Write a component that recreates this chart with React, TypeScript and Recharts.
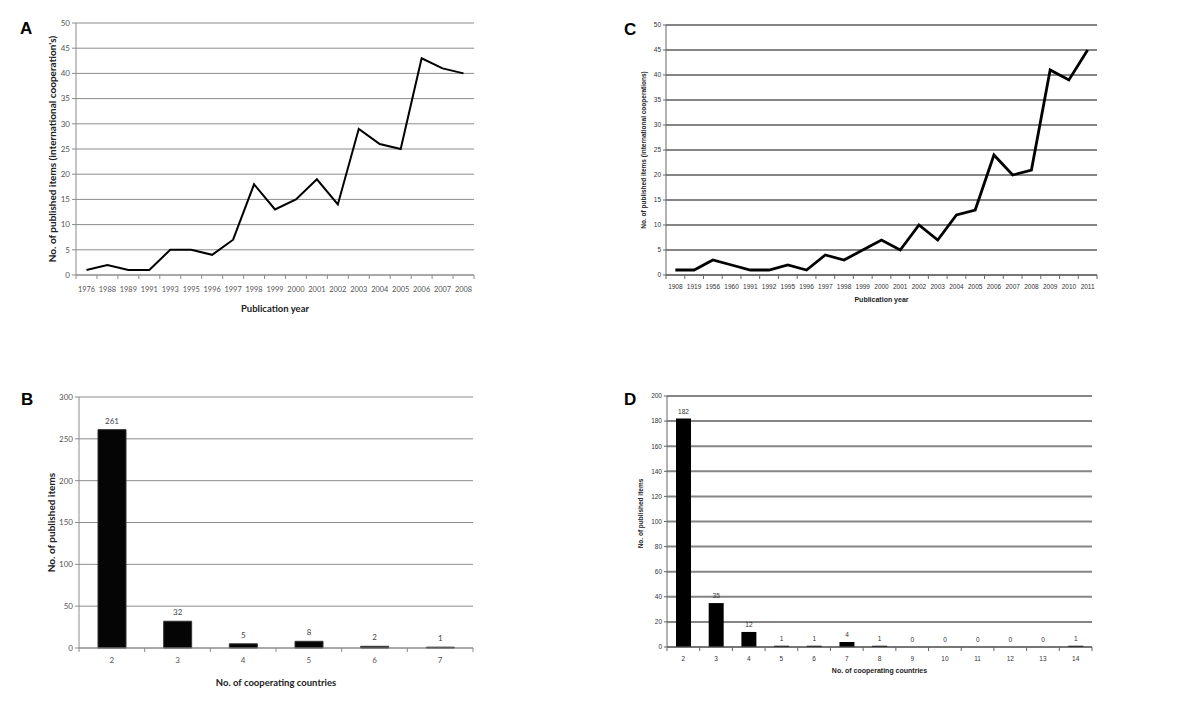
import React from 'react';
import {
  LineChart,
  Line,
  BarChart,
  Bar,
  XAxis,
  YAxis,
  CartesianGrid,
  LabelList,
} from 'recharts';

// Panel A - publications per year (international cooperation's)
const yearsA = ['1976', '1988', '1989', '1991', '1993', '1995', '1996', '1997', '1998', '1999', '2000', '2001', '2002', '2003', '2004', '2005', '2006', '2007', '2008'];
const itemsA = [1, 2, 1, 1, 5, 5, 4, 7, 18, 13, 15, 19, 14, 29, 26, 25, 43, 41, 40];

// Panel C - publications per year (international cooperations)
const yearsC = ['1908', '1919', '1956', '1960', '1991', '1992', '1995', '1996', '1997', '1998', '1999', '2000', '2001', '2002', '2003', '2004', '2005', '2006', '2007', '2008', '2009', '2010', '2011'];
const itemsC = [1, 1, 3, 2, 1, 1, 2, 1, 4, 3, 5, 7, 5, 10, 7, 12, 13, 24, 20, 21, 41, 39, 45];

// Panel B - items by number of cooperating countries
const countriesB = ['2', '3', '4', '5', '6', '7'];
const itemsB = [261, 32, 5, 8, 2, 1];

// Panel D - items by number of cooperating countries
const countriesD = ['2', '3', '4', '5', '6', '7', '8', '9', '10', '11', '12', '13', '14'];
const itemsD = [182, 35, 12, 1, 1, 4, 1, 0, 0, 0, 0, 0, 1];

const yTicksLine = [0, 5, 10, 15, 20, 25, 30, 35, 40, 45, 50];
const yTicksB = [0, 50, 100, 150, 200, 250, 300];
const yTicksD = [0, 20, 40, 60, 80, 100, 120, 140, 160, 180, 200];

const dataA = yearsA.map((year, i) => ({ year, value: itemsA[i] }));
const dataC = yearsC.map((year, i) => ({ year, value: itemsC[i] }));
const dataB = countriesB.map((n, i) => ({ n, value: itemsB[i] }));
const dataD = countriesD.map((n, i) => ({ n, value: itemsD[i] }));

const CALIBRI = 'Lato, "Open Sans", sans-serif';
const ARIAL = '"Liberation Sans", Arial, sans-serif';

const BAND_A = 398 / 19;
const BAND_C = 431 / 23;

type TickCfg = {
  band: number;
  count: number;
  font: string;
  size: number;
  color: string;
  textDy: number;
  lineColor: string;
};

// Excel-style category ticks: marks sit on the band boundaries, labels in the middle
const boundaryTick = (cfg: TickCfg) => (props: any) => {
  const { x, y, payload, index } = props;
  const half = cfg.band / 2;
  return (
    <g>
      <line x1={x - half} x2={x - half} y1={y} y2={y + 4} stroke={cfg.lineColor} />
      {index === cfg.count - 1 && (
        <line x1={x + half} x2={x + half} y1={y} y2={y + 4} stroke={cfg.lineColor} />
      )}
      <text
        x={x}
        y={y + cfg.textDy}
        textAnchor="middle"
        fontFamily={cfg.font}
        fontSize={cfg.size}
        fill={cfg.color}
      >
        {payload.value}
      </text>
    </g>
  );
};

// value label above a bar
const barValue = (font: string, size: number, color: string, gap: number) => (props: any) => {
  const { x, y, width, value } = props;
  return (
    <text x={x + width / 2} y={y - gap} textAnchor="middle" fontFamily={font} fontSize={size} fill={color}>
      {value}
    </text>
  );
};

const PanelLetter = ({ text, left, top }: { text: string; left: number; top: number }) => (
  <div
    style={{
      position: 'absolute',
      left,
      top,
      fontFamily: ARIAL,
      fontWeight: 'bold',
      fontSize: 17,
      lineHeight: 1,
    }}
  >
    {text}
  </div>
);

const App: React.FC = () => {
  return (
    <div
      style={{
        position: 'absolute',
        left: 0,
        top: 0,
        width: 1200,
        height: 706,
        background: '#fff',
        overflow: 'hidden',
      }}
    >
      <PanelLetter text="A" left={20} top={20} />
      <PanelLetter text="C" left={624} top={21} />
      <PanelLetter text="B" left={21} top={391} />
      <PanelLetter text="D" left={624} top={391} />

      {/* A */}
      <div style={{ position: 'absolute', left: 0, top: 0 }}>
        <LineChart width={490} height={330} data={dataA} margin={{ top: 23, right: 16, bottom: 0, left: 0 }}>
          <CartesianGrid vertical={false} stroke="#8c8c8c" />
          <XAxis
            dataKey="year"
            height={55}
            interval={0}
            tickSize={0}
            tickMargin={0}
            padding={{ left: BAND_A / 2, right: BAND_A / 2 }}
            axisLine={{ stroke: '#8c8c8c' }}
            tickLine={false}
            tick={boundaryTick({ band: BAND_A, count: 19, font: CALIBRI, size: 7.4, color: '#555', textDy: 17, lineColor: '#8c8c8c' })}
            label={{ value: 'Publication year', position: 'insideBottom', offset: 18, fontFamily: CALIBRI, fontSize: 9.5, fontWeight: 'bold', fill: '#222' }}
          />
          <YAxis
            width={76}
            domain={[0, 50]}
            ticks={yTicksLine}
            tickSize={4}
            tickMargin={2}
            axisLine={{ stroke: '#8c8c8c' }}
            tickLine={{ stroke: '#8c8c8c' }}
            tick={{ fontFamily: CALIBRI, fontSize: 8, fill: '#555' }}
            label={{
              value: "No. of published items (international cooperation's)",
              angle: -90,
              position: 'insideLeft',
              offset: 52,
              fontFamily: CALIBRI,
              fontSize: 10,
              fontWeight: 'bold',
              fill: '#222',
              style: { textAnchor: 'middle' },
            }}
          />
          <YAxis yAxisId="frame" orientation="right" width={0} domain={[0, 1]} tick={false} tickLine={false} axisLine={{ stroke: '#c8c8c8' }} />
          <Line type="linear" dataKey="value" stroke="#000" strokeWidth={2} dot={false} isAnimationActive={false} />
        </LineChart>
      </div>

      {/* C */}
      <div style={{ position: 'absolute', left: 600, top: 0 }}>
        <LineChart width={510} height={330} data={dataC} margin={{ top: 25, right: 13, bottom: 0, left: 0 }}>
          <CartesianGrid vertical={false} stroke="#858585" strokeWidth={2} />
          <XAxis
            dataKey="year"
            height={55}
            interval={0}
            tickSize={0}
            tickMargin={0}
            padding={{ left: BAND_C / 2, right: BAND_C / 2 }}
            axisLine={{ stroke: '#666' }}
            tickLine={false}
            tick={boundaryTick({ band: BAND_C, count: 23, font: ARIAL, size: 6.5, color: '#333', textDy: 14, lineColor: '#666' })}
            label={{ value: 'Publication year', position: 'insideBottom', offset: 28, fontFamily: ARIAL, fontSize: 7, fontWeight: 'bold', fill: '#222' }}
          />
          <YAxis
            width={66}
            domain={[0, 50]}
            ticks={yTicksLine}
            tickSize={3}
            tickMargin={2}
            axisLine={{ stroke: '#666' }}
            tickLine={{ stroke: '#666' }}
            tick={{ fontFamily: ARIAL, fontSize: 6.5, fill: '#333' }}
            label={{
              value: 'No. of published items (international cooperations)',
              angle: -90,
              position: 'insideLeft',
              offset: 44,
              fontFamily: ARIAL,
              fontSize: 6.5,
              fontWeight: 'bold',
              fill: '#222',
              style: { textAnchor: 'middle' },
            }}
          />
          <YAxis yAxisId="frame" orientation="right" width={0} domain={[0, 1]} tick={false} tickLine={false} axisLine={{ stroke: '#999' }} />
          <Line type="linear" dataKey="value" stroke="#000" strokeWidth={2.8} dot={false} isAnimationActive={false} />
        </LineChart>
      </div>

      {/* B */}
      <div style={{ position: 'absolute', left: 0, top: 380 }}>
        <BarChart width={490} height={320} data={dataB} margin={{ top: 17, right: 17, bottom: 0, left: 0 }}>
          <CartesianGrid vertical={false} stroke="#8c8c8c" />
          <XAxis
            dataKey="n"
            height={52}
            interval={0}
            tickSize={0}
            tickMargin={0}
            axisLine={{ stroke: '#8c8c8c' }}
            tickLine={false}
            tick={boundaryTick({ band: 394 / 6, count: 6, font: CALIBRI, size: 8, color: '#555', textDy: 15, lineColor: '#8c8c8c' })}
            label={{ value: 'No. of cooperating countries', position: 'insideBottom', offset: 14, fontFamily: CALIBRI, fontSize: 9.5, fontWeight: 'bold', fill: '#222' }}
          />
          <YAxis
            width={79}
            domain={[0, 300]}
            ticks={yTicksB}
            tickSize={4}
            tickMargin={2}
            axisLine={{ stroke: '#8c8c8c' }}
            tickLine={{ stroke: '#8c8c8c' }}
            tick={{ fontFamily: CALIBRI, fontSize: 8, fill: '#555' }}
            label={{
              value: 'No. of published items',
              angle: -90,
              position: 'insideLeft',
              offset: 51,
              fontFamily: CALIBRI,
              fontSize: 10,
              fontWeight: 'bold',
              fill: '#222',
              style: { textAnchor: 'middle' },
            }}
          />
          <YAxis yAxisId="frame" orientation="right" width={0} domain={[0, 1]} tick={false} tickLine={false} axisLine={{ stroke: '#c8c8c8' }} />
          <Bar dataKey="value" fill="#050505" stroke="#333" barSize={28} isAnimationActive={false}>
            <LabelList dataKey="value" content={barValue(CALIBRI, 8, '#444', 6)} />
          </Bar>
        </BarChart>
      </div>

      {/* D */}
      <div style={{ position: 'absolute', left: 600, top: 380 }}>
        <BarChart width={510} height={320} data={dataD} margin={{ top: 16, right: 18, bottom: 0, left: 0 }}>
          <CartesianGrid vertical={false} stroke="#858585" strokeWidth={2} />
          <XAxis
            dataKey="n"
            height={53}
            interval={0}
            tickSize={0}
            tickMargin={0}
            axisLine={{ stroke: '#666' }}
            tickLine={false}
            tick={boundaryTick({ band: 425 / 13, count: 13, font: ARIAL, size: 6.5, color: '#333', textDy: 14, lineColor: '#666' })}
            label={{ value: 'No. of cooperating countries', position: 'insideBottom', offset: 27, fontFamily: ARIAL, fontSize: 7, fontWeight: 'bold', fill: '#222' }}
          />
          <YAxis
            width={67}
            domain={[0, 200]}
            ticks={yTicksD}
            tickSize={3}
            tickMargin={2}
            axisLine={{ stroke: '#666' }}
            tickLine={{ stroke: '#666' }}
            tick={{ fontFamily: ARIAL, fontSize: 6.5, fill: '#333' }}
            label={{
              value: 'No. of published items',
              angle: -90,
              position: 'insideLeft',
              offset: 41,
              dy: -8,
              fontFamily: ARIAL,
              fontSize: 6.5,
              fontWeight: 'bold',
              fill: '#222',
              style: { textAnchor: 'middle' },
            }}
          />
          <YAxis yAxisId="frame" orientation="right" width={0} domain={[0, 1]} tick={false} tickLine={false} axisLine={{ stroke: '#999' }} />
          <Bar dataKey="value" fill="#000" barSize={15} minPointSize={0.01} isAnimationActive={false}>
            <LabelList dataKey="value" content={barValue(ARIAL, 6.5, '#333', 5)} />
          </Bar>
        </BarChart>
      </div>
    </div>
  );
};

export default App;
